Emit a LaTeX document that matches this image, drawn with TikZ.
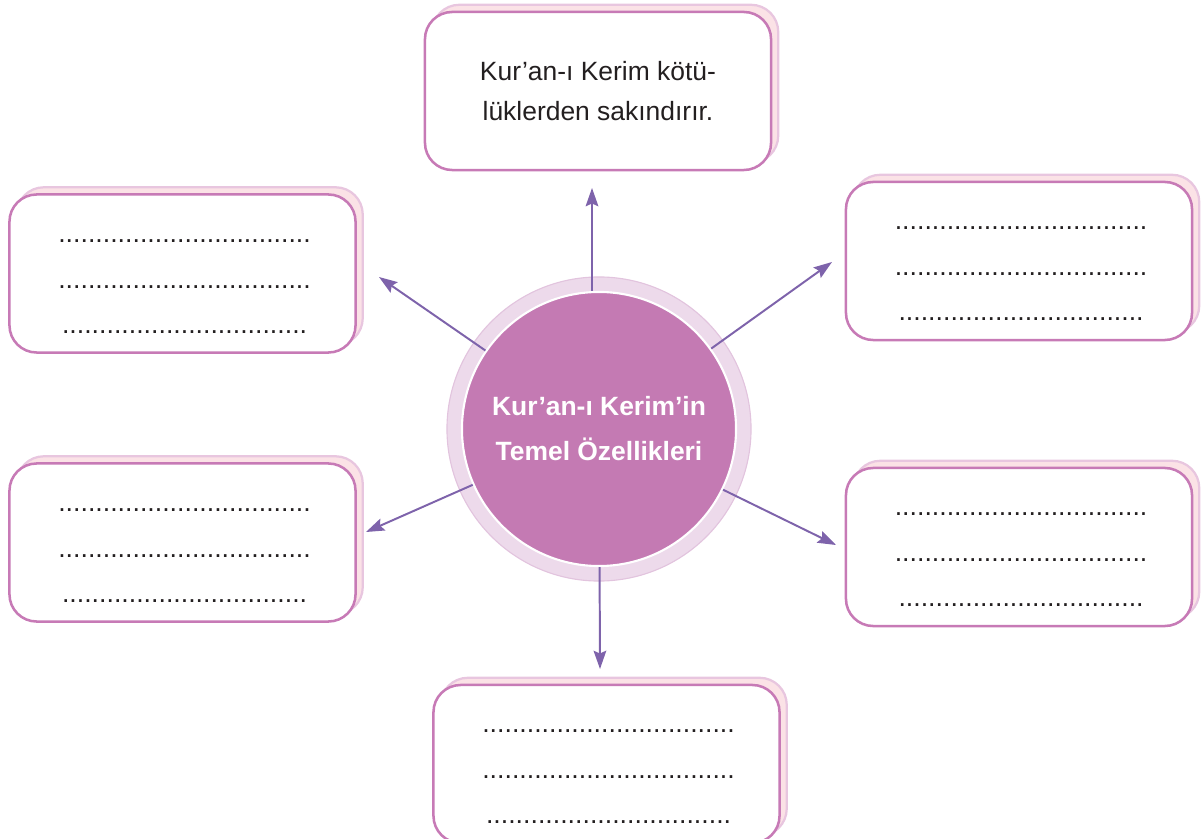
\documentclass[tikz,border=0pt]{standalone}
\usepackage{fontspec}
\setmainfont{Liberation Sans}
\usetikzlibrary{arrows.meta, shadows, calc}

\definecolor{boxline}{HTML}{C77AB6}
\definecolor{shadowfill}{HTML}{FBE2E6}
\definecolor{shadowline}{HTML}{E8C6DF}
\definecolor{corefill}{HTML}{C47AB3}
\definecolor{ringfill}{HTML}{EDDAEB}
\definecolor{ringline}{HTML}{E2C4DE}
\definecolor{linkcol}{HTML}{7E63AB}
\definecolor{inkcol}{HTML}{231F20}

\tikzset{
  card/.style={draw=boxline, line width=1.8pt, fill=white, rounded corners=0.68cm,
    minimum width=8.65cm, minimum height=3.95cm,
    copy shadow={shadow xshift=0.18cm, shadow yshift=0.18cm,
      fill=shadowfill, draw=shadowline, line width=1.6pt}},
  link/.style={draw=linkcol, line width=1.4pt, -{Stealth[length=13pt, width=9pt, inset=2pt]}},
  dotrow/.style={anchor=base, text=inkcol, inner sep=0pt,
    font=\fontsize{19}{22}\selectfont}
}

\begin{document}
\begin{tikzpicture}[x=0.025cm, y=-0.025cm]
    \useasboundingbox (0,0) rectangle (1203,839);
    \clip (0,0) rectangle (1203,839);

    % Central circle with its ring
    \node[circle, fill=ringfill, draw=ringline, line width=0.8pt, minimum size=7.6cm] (ring) at (599,429) {};
    \node[circle, fill=corefill, draw=white, line width=1.5pt, minimum size=6.85cm,
          text=white, align=center, font=\bfseries\fontsize{18.8}{32}\selectfont]
        (core) at (599,429) {Kur’an-ı Kerim’in\\Temel Özellikleri};

    % Boxes round the circle
    \node[card, text=inkcol, align=center, font=\fontsize{18.8}{29}\selectfont]
        (cT) at (598,91) {Kur’an-ı Kerim kötü-\\lüklerden sakındırır.};
    \node[card] (cLU) at (182.5,273.5) {};
    \node[card] (cRU) at (1019,261) {};
    \node[card] (cLL) at (182.5,542.5) {};
    \node[card] (cRL) at (1019,547) {};
    \node[card] (cB)  at (606.5,764) {};

    % Empty lines to fill in
    \foreach \b in {cLU,cRU,cLL,cRL,cB}
    {
        \node[dotrow] (\b-a) at ($(\b.north)+(2,49)$) {..................................};
        \node[dotrow] (\b-b) at ($(\b.north)+(2,95)$) {..................................};
        \node[dotrow] (\b-c) at ($(\b.north)+(2,140)$) {.................................};
    }

    % Arrow ends
    \coordinate (tT)  at (592,188);
    \coordinate (tLU) at (379,277);
    \coordinate (tRU) at (832,262);
    \coordinate (tLL) at (366,532);
    \coordinate (tRL) at (836,545);
    \coordinate (tB)  at (600,669);

    % Arrows from the circle
    \draw[link] (tT |- core.north) -- (tT);
    \foreach \t in {tLU,tRU,tLL,tRL,tB}
    {
        \draw[link] (core) -- (\t);
    }
\end{tikzpicture}
\end{document}
